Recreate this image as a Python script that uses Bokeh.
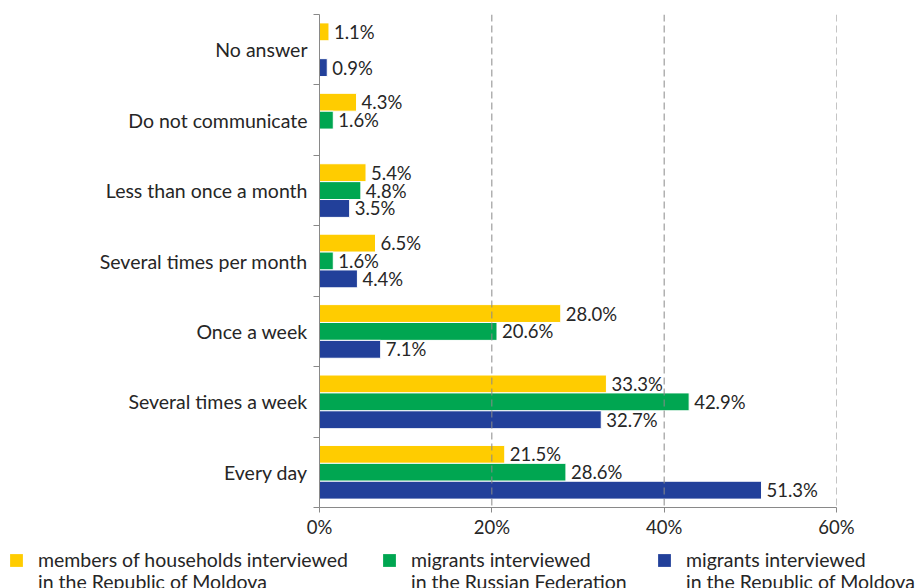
from bokeh.plotting import figure
from bokeh.models import (ColumnDataSource, Range1d, LinearAxis,
                          FixedTicker, Legend, LegendItem, CustomJSTickFormatter, Span)
from bokeh.transform import dodge
from bokeh.core.properties import value
from bokeh.embed import file_html
from bokeh.resources import INLINE

categories = ["No answer", "Do not communicate", "Less than once a month",
              "Several times per month", "Once a week", "Several times a week", "Every day"]
households_md = [1.1, 4.3, 5.4, 6.5, 28.0, 33.3, 21.5]
migrants_ru = [None, 1.6, 4.8, 1.6, 20.6, 42.9, 28.6]
migrants_md = [0.9, None, 3.5, 4.4, 7.1, 32.7, 51.3]
series_names = [("members of households interviewed", "in the Republic of Moldova"),
                ("migrants interviewed", "in the Russian Federation"),
                ("migrants interviewed", "in the Republic of Moldova")]
colors = ["#FFCC00", "#00A651", "#22409A"]
x_ticks = [0, 20, 40, 60]

FONT = "Lato"
TXT = "#262626"
AX = "#898989"
FS = "18.5px"
FS_CAT = "19.5px"

n = len(categories)
cat_pos = {c: n - i - 0.5 for i, c in enumerate(categories)}

p = figure(width=919, height=540, output_backend="svg", toolbar_location=None,
           y_range=Range1d(0, n), x_range=Range1d(0, 60),
           x_axis_location=None, y_axis_location=None,
           min_border_left=319, min_border_right=83, min_border_top=14, min_border_bottom=32)
p.outline_line_color = None
p.ygrid.grid_line_color = None
p.xgrid.grid_line_color = None

xa = LinearAxis(ticker=FixedTicker(ticks=x_ticks),
                formatter=CustomJSTickFormatter(code="return tick + '%';"))
xa.axis_line_color = AX
xa.major_tick_line_color = AX
xa.major_tick_out = 5
xa.major_tick_in = 0
xa.minor_tick_line_color = None
xa.major_label_standoff = 3
xa.major_label_text_font = FONT
xa.major_label_text_font_size = FS
xa.major_label_text_color = TXT
p.add_layout(xa, "below")

ta = LinearAxis(ticker=FixedTicker(ticks=list(range(n + 1))))
ta.axis_line_color = AX
ta.major_tick_line_color = AX
ta.major_tick_out = 6
ta.major_tick_in = 0
ta.minor_tick_line_color = None
ta.major_label_text_font_size = "0px"
ta.major_label_standoff = 0
p.add_layout(ta, "left")

ca = LinearAxis(ticker=FixedTicker(ticks=[cat_pos[c] for c in categories]),
                major_label_overrides={cat_pos[c]: c for c in categories})
ca.axis_line_color = None
ca.major_tick_line_color = None
ca.minor_tick_line_color = None
ca.major_label_standoff = 0
ca.major_label_text_font = FONT
ca.major_label_text_font_size = FS_CAT
ca.major_label_text_color = TXT
p.add_layout(ca, "left")

for t in x_ticks[1:]:
    p.add_layout(Span(location=t, dimension="height", line_color=AX, line_dash="7 4", line_width=1))

offsets = [0.254, 0.0, -0.254]
all_series = [households_md, migrants_ru, migrants_md]
for vals, off, col in zip(all_series, offsets, colors):
    cats = [c for c, v in zip(categories, vals) if v is not None]
    vs = [v for v in vals if v is not None]
    src = ColumnDataSource(dict(pos=[cat_pos[c] for c in cats], val=vs,
                                lab=[f"{v:.1f}%" for v in vs]))
    p.hbar(y=dodge("pos", off), right="val", left=0, height=0.254,
           source=src, fill_color=col, line_color="white", line_width=1)
    p.text(x="val", y=dodge("pos", off), text="lab", source=src,
           x_offset=5, text_baseline="middle", text_align="left",
           text_font=value(FONT), text_font_size=FS, text_color=TXT)

# legend as a separate root (so that its frame is not aligned with the chart frame)
p2 = figure(width=919, height=48, output_backend="svg", toolbar_location=None,
            x_range=Range1d(0, 1), y_range=Range1d(0, 1),
            x_axis_location=None, y_axis_location=None,
            min_border_left=0, min_border_right=0, min_border_top=0, min_border_bottom=0)
p2.outline_line_color = None
p2.xgrid.grid_line_color = None
p2.ygrid.grid_line_color = None
nan = float("nan")
blank = p2.quad(left=[nan], right=[nan], top=[nan], bottom=[nan], fill_alpha=0, line_color=None)
legend_x = [8, 381, 656]


def make_legend(label, renderer, lx, ly):
    lg = Legend(items=[LegendItem(label=label, renderers=[renderer])], location=(lx, ly))
    lg.border_line_color = None
    lg.background_fill_alpha = 0
    lg.padding = 0
    lg.margin = 0
    lg.glyph_width = 16
    lg.glyph_height = 16
    lg.label_standoff = 14
    lg.label_text_font = FONT
    lg.label_text_font_size = FS_CAT
    lg.label_text_color = TXT
    lg.label_text_line_height = 1.0
    p2.add_layout(lg, "center")


for col, (line1, line2), lx in zip(colors, series_names, legend_x):
    r = p2.quad(left=[nan], right=[nan], top=[nan], bottom=[nan], fill_color=col, line_color=None)
    make_legend(line1, r, lx, 17)
    make_legend(line2, blank, lx, -5)

open("out.html", "w").write(file_html([p, p2], INLINE))
